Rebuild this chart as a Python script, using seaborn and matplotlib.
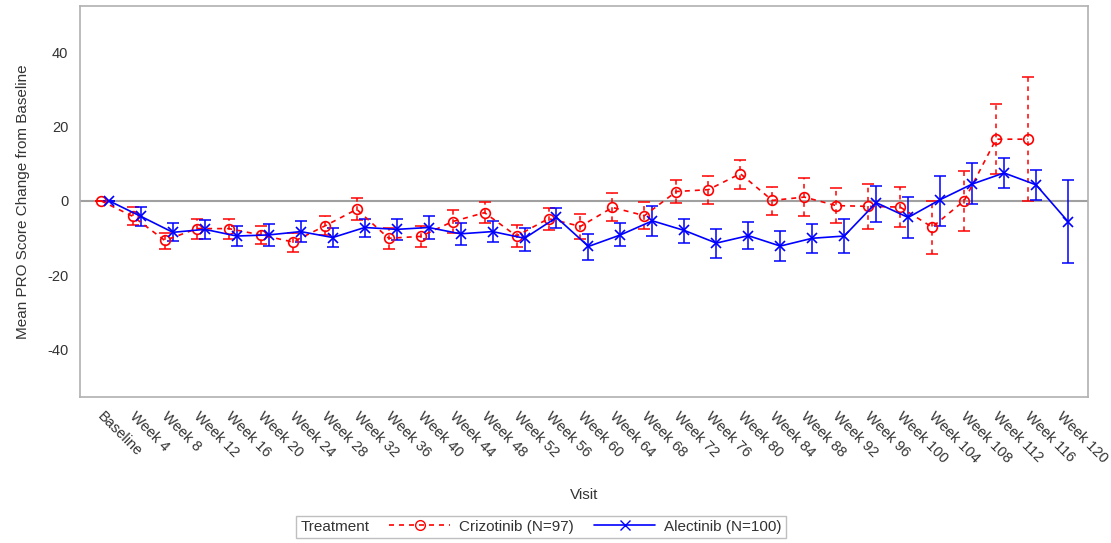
import numpy as np
import pandas as pd
import seaborn as sns
import matplotlib.pyplot as plt
from matplotlib.lines import Line2D

sns.set_style('white')
plt.rcParams['font.family'] = ['Liberation Sans', 'DejaVu Sans']
plt.rcParams['axes.unicode_minus'] = False

# visits on the x axis
visits = ['Baseline'] + ['Week %d' % w for w in range(4, 121, 4)]

# Crizotinib (N=97): mean change and error bar limits (no data at week 120)
criz_mean = [0, -4.2, -10.7, -7.5, -7.5, -9.2, -11.1, -6.8, -2.3, -10.1, -9.6,
             -5.6, -3.2, -9.5, -4.8, -6.9, -1.8, -4.0, 2.5, 3.0, 7.3,
             0.1, 1.0, -1.3, -1.5, -1.7, -7.1, 0.0, 16.6, 16.6, np.nan]
criz_upper = [0, -1.7, -8.6, -4.8, -4.9, -6.8, -8.6, -4.1, 0.8, -7.4, -6.8,
              -2.6, -0.3, -6.6, -2.0, -3.5, 2.2, -0.2, 5.5, 6.6, 11.1,
              3.7, 6.1, 3.4, 4.6, 3.6, 0.0, 8.1, 26.1, 33.3, np.nan]
criz_lower = [0, -6.5, -13.1, -10.3, -10.3, -11.6, -13.7, -9.2, -5.3, -13.1, -12.5,
              -8.6, -6.0, -12.5, -7.8, -10.4, -5.4, -7.7, -0.6, -0.8, 3.2,
              -3.9, -4.1, -6.1, -7.7, -7.0, -14.3, -8.1, 7.2, 0.0, np.nan]

# Alectinib (N=100)
alec_mean = [0, -4.2, -8.5, -7.7, -9.5, -9.2, -8.3, -9.9, -7.2, -7.7, -7.2,
             -8.9, -8.3, -10.1, -4.5, -12.3, -9.2, -5.4, -8.0, -11.4, -9.4,
             -12.2, -10.1, -9.5, -0.5, -4.5, 0.3, 4.5, 7.5, 4.3, -5.6]
alec_upper = [0, -1.7, -5.9, -5.1, -6.9, -6.3, -5.5, -7.4, -4.8, -5.0, -4.1,
              -5.9, -5.4, -7.2, -1.9, -8.9, -6.0, -1.4, -4.9, -7.6, -5.8,
              -8.1, -6.2, -5.0, 4.1, 0.9, 6.8, 10.1, 11.4, 8.2, 5.5]
alec_lower = [0, -6.8, -10.9, -10.3, -12.1, -12.1, -11.0, -12.5, -9.8, -10.7, -10.4,
              -12.0, -11.1, -13.5, -7.3, -16.0, -12.3, -9.5, -11.3, -15.5, -13.1,
              -16.1, -14.1, -14.0, -5.8, -10.1, -6.9, -1.0, 3.4, 0.1, -16.7]

treatments = ['Crizotinib (N=97)', 'Alectinib (N=100)']
colors = ['#ff0000', '#0000ff']

df = pd.concat([
    pd.DataFrame({'Visit': visits, 'mean': criz_mean, 'Treatment': treatments[0]}),
    pd.DataFrame({'Visit': visits, 'mean': alec_mean, 'Treatment': treatments[1]}),
]).dropna()

fig, ax = plt.subplots(figsize=(11.11, 5.43), dpi=100)
fig.subplots_adjust(left=0.072, right=0.979, bottom=0.2694, top=0.989)

ax.axhline(0, color='#a0a0a0', lw=1.5, zorder=0.5)

sns.pointplot(data=df, x='Visit', y='mean', hue='Treatment', order=visits,
              hue_order=treatments, palette=colors, markers=['o', 'x'],
              linestyles=['--', '-'], dodge=0.25, errorbar=None,
              markersize=7, linewidth=1.2, legend=False, ax=ax)

# tidy up the seaborn lines and add the error bars at the same positions
bars = [(criz_lower, criz_upper), (alec_lower, alec_upper)]
means = [criz_mean, alec_mean]
for i, line in enumerate(ax.lines[1:3]):
    off = line.get_xdata()[0]
    if i == 0:
        line.set_markerfacecolor('none')
        line.set_dashes((3, 3))
    line.set_markeredgewidth(1.2)
    m = np.array(means[i])
    lo = np.array(bars[i][0])
    hi = np.array(bars[i][1])
    x = np.arange(len(visits)) + off
    eb = ax.errorbar(x, m, yerr=[m - lo, hi - m], fmt='none', ecolor=colors[i],
                     elinewidth=1.1, capsize=4, capthick=1.1, zorder=1.5)
    if i == 0:
        eb[2][0].set_linestyle((0, (3, 3)))

ax.set_ylim(-52.8, 52.5)
ax.set_xlim(-0.78, 30.74)
ax.set_yticks([-40, -20, 0, 20, 40])
ax.set_xticks(range(len(visits)))
ax.set_xticklabels(visits, rotation=-45, ha='left', va='top',
                   rotation_mode='anchor')
ax.tick_params(axis='both', colors='#a0a0a0', labelcolor='#333333',
               labelsize=10.5, length=5, width=1, direction='out')
ax.tick_params(axis='x', pad=4)
for s in ax.spines.values():
    s.set_color('#b0b0b0')
    s.set_linewidth(1.2)

ax.set_xlabel('Visit', fontsize=11, color='#333333', labelpad=16)
ax.set_ylabel('Mean PRO Score Change from Baseline', fontsize=11, color='#333333',
              labelpad=12)

handles = [
    Line2D([], [], color=colors[0], ls=(0, (3, 3)), marker='o', mfc='none',
           markersize=7, lw=1.2),
    Line2D([], [], color=colors[1], ls='-', marker='x', markersize=7, lw=1.2),
]
leg = fig.legend(handles, treatments, title='Treatment', ncol=2, loc='center',
                 bbox_to_anchor=(0.487, 0.03), fontsize=11, title_fontsize=11,
                 frameon=True, fancybox=False, edgecolor='#b0b0b0',
                 handlelength=4.0, columnspacing=1.3, borderpad=0.25,
                 handletextpad=0.6)
leg.get_frame().set_linewidth(1.0)
# put the title on the left of the entries
box = leg.get_children()[0]
title_box = box.get_children()[0]
hbox = box.get_children()[1]
box._children = [hbox]
hbox._children = [title_box] + hbox.get_children()
leg.get_title().set_color('#333333')
for t in leg.get_texts():
    t.set_color('#333333')

fig.savefig('out.png', dpi=100)
